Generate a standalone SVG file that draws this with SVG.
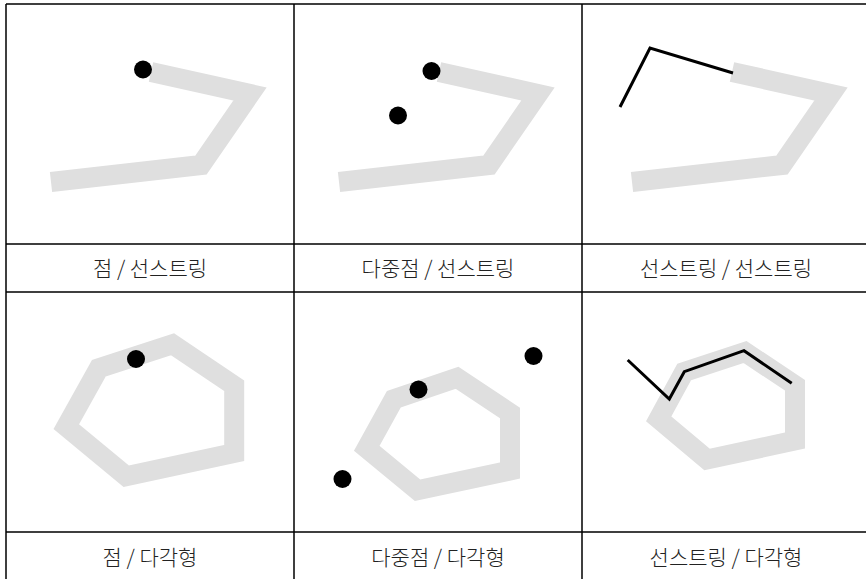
<svg xmlns="http://www.w3.org/2000/svg" width="866" height="579" viewBox="0 0 866 579">
<style>
.bg{fill:#fff}
.grid{stroke:#000;stroke-width:1.5;fill:none}
.ring{fill:none;stroke:#dfdfdf;stroke-width:20;stroke-linejoin:miter;stroke-miterlimit:10}
.pt{fill:#000}
.ln{fill:none;stroke:#000;stroke-width:3;stroke-linejoin:miter}
.lbl{font-family:"Noto Sans CJK KR","Noto Sans",sans-serif;font-size:21px;font-weight:300;fill:#222;text-anchor:middle}
</style>
<rect class="bg" x="0" y="0" width="866" height="579"/>
<g id="grid">
<path class="grid" d="M6,4H870M6,244H870M6,292H870M6,532H870M6,4V580M294,4V580M582,4V580"/>
</g>
<g id="cell1">
<polyline class="ring" points="151,72 250,94 201,165 51,182"/>
<circle class="pt" cx="143" cy="69.5" r="9"/>
<text class="lbl" x="150" y="276">점 / 선스트링</text>
</g>
<g id="cell2">
<polyline class="ring" points="439,72 538,94 489,165 339,182"/>
<circle class="pt" cx="431.5" cy="71" r="9"/>
<circle class="pt" cx="398" cy="115.5" r="9"/>
<text class="lbl" x="438" y="276">다중점 / 선스트링</text>
</g>
<g id="cell3">
<polyline class="ring" points="732,72 831,94 782,165 632,182"/>
<polyline class="ln" points="620,107 650,48 733,73"/>
<text class="lbl" x="726" y="276">선스트링 / 선스트링</text>
</g>
<g id="cell4">
<polygon class="ring" points="98.8,368.3 172.5,344.2 234.2,385.8 234.2,453 126.2,476.2 66.3,426.7"/>
<circle class="pt" cx="136" cy="359" r="9"/>
<text class="lbl" x="150" y="565">점 / 다각형</text>
</g>
<g id="cell5">
<polygon class="ring" points="393.8,399.3 457,377.7 510,413 510,470.5 417.5,490.3 366.7,448.3"/>
<circle class="pt" cx="418.5" cy="389.5" r="9"/>
<circle class="pt" cx="533.5" cy="356" r="9"/>
<circle class="pt" cx="342.5" cy="479" r="9"/>
<text class="lbl" x="438" y="565">다중점 / 다각형</text>
</g>
<g id="cell6">
<polygon class="ring" points="684.2,372 745,352 795,385.3 795,440.5 707,459.5 658.7,418.8"/>
<polyline class="ln" points="627.7,360 669.3,399 684.3,371.7 744,350.7 791.7,383.3"/>
<text class="lbl" x="726" y="565">선스트링 / 다각형</text>
</g>
</svg>
